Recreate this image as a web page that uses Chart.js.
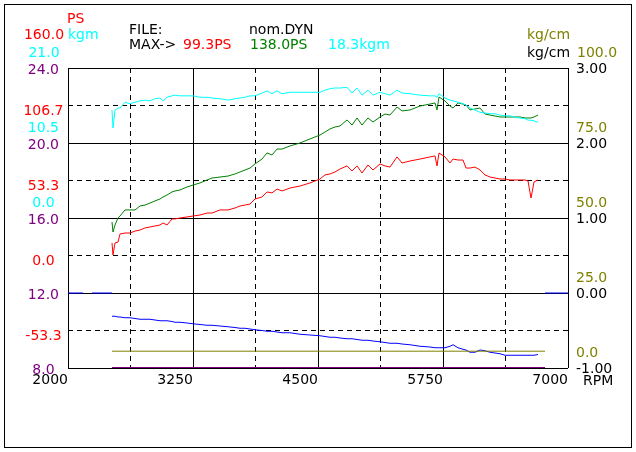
<!DOCTYPE html>
<html>
<head>
<meta charset="utf-8">
<script src="https://cdn.jsdelivr.net/npm/chart.js@4"></script>
<style>
  html, body { margin: 0; padding: 0; background: #fff; }
  canvas { display: block; }
</style>
</head>
<body>
<canvas id="dyno" width="636" height="452"></canvas>
<script>
// engine speed samples (RPM)
const rpm = [2440, 2450, 2470, 2500, 2520, 2570, 2620, 2670, 2720, 2770,
  2820, 2870, 2920, 2950, 2990, 3040, 3070, 3120, 3190, 3250,
  3320, 3390, 3440, 3520, 3600, 3670, 3720, 3770, 3820, 3870,
  3940, 3990, 4040, 4090, 4140, 4220, 4320, 4420, 4520, 4570,
  4620, 4670, 4720, 4790, 4840, 4890, 4940, 5000, 5050, 5120,
  5170, 5220, 5290, 5340, 5420, 5520, 5620, 5670, 5690, 5710,
  5770, 5820, 5850, 5900, 5950, 5980, 6020, 6070, 6120, 6170,
  6220, 6270, 6320, 6370, 6420, 6470, 6520, 6570, 6600, 6630,
  6660, 6700];

// power, PS (red)
const powerPS = [12.8, 4.3, 12.8, 13.5, 19.2, 19.9, 19.9, 21.3, 22.0, 23.5,
  24.2, 24.9, 25.6, 27.0, 25.6, 29.9, 29.9, 30.6, 31.3, 32.0,
  32.7, 34.1, 34.1, 36.3, 36.3, 37.7, 39.1, 39.8, 40.5, 44.1,
  45.5, 49.1, 48.4, 51.2, 49.8, 51.9, 53.3, 55.5, 58.3, 61.2,
  61.9, 63.3, 65.4, 67.6, 64.0, 67.6, 62.6, 68.3, 64.7, 69.0,
  67.6, 66.8, 74.0, 69.7, 71.1, 72.5, 74.0, 74.7, 67.6, 76.8,
  74.0, 69.7, 72.5, 71.8, 71.8, 66.1, 66.1, 66.8, 64.7, 61.2,
  59.7, 59.0, 58.3, 58.3, 57.6, 57.6, 57.6, 57.6, 56.9, 44.8,
  56.2, 57.6];

// nom.DYN power, PS (green)
const nomPS = [27.7, 20.6, 25.6, 30.6, 32.0, 36.3, 36.3, 36.3, 39.1, 39.8,
  41.2, 42.7, 44.1, 45.5, 46.9, 49.1, 49.8, 50.5, 52.6, 54.0,
  55.5, 57.6, 59.0, 59.7, 60.4, 61.9, 63.3, 64.7, 66.1, 69.0,
  72.5, 76.8, 75.4, 79.6, 79.6, 81.8, 83.9, 86.8, 89.6, 91.7,
  93.9, 95.3, 96.0, 100.3, 96.7, 101.7, 96.7, 101.7, 98.8, 102.4,
  104.5, 103.8, 109.5, 106.7, 107.4, 110.2, 111.6, 112.4, 107.4, 116.6,
  113.8, 110.2, 108.8, 112.4, 111.6, 110.9, 107.4, 108.1, 108.8, 104.5,
  103.8, 103.1, 102.4, 102.4, 102.4, 102.4, 102.4, 101.7, 101.7, 101.7,
  102.4, 103.8];

// torque, kgm (cyan)
const torqueKgm = [13.0, 10.5, 13.0, 13.3, 13.3, 14.1, 13.9, 14.1, 14.3, 14.4,
  14.3, 14.6, 14.7, 14.3, 14.8, 15.0, 15.1, 15.0, 15.0, 15.0,
  14.8, 14.8, 14.7, 14.6, 14.4, 14.6, 14.7, 14.8, 15.0, 15.0,
  15.4, 15.7, 15.3, 15.7, 15.3, 15.5, 15.5, 15.5, 15.5, 15.8,
  16.0, 16.1, 16.1, 16.2, 15.4, 16.1, 15.1, 15.8, 15.1, 15.5,
  15.3, 15.1, 15.8, 15.4, 15.3, 15.1, 15.0, 15.0, 14.8, 15.3,
  14.7, 14.4, 14.3, 14.1, 13.9, 13.7, 13.3, 13.0, 12.7, 12.6,
  12.5, 12.5, 12.3, 12.2, 12.2, 12.0, 11.9, 11.8, 11.6, 11.6,
  11.5, 11.3];

// pressure, kg/cm (blue)
const boostKgcm = [-0.31, -0.31, -0.31, -0.32, -0.32, -0.33, -0.33, -0.34, -0.35, -0.35,
  -0.35, -0.36, -0.37, -0.37, -0.37, -0.38, -0.39, -0.39, -0.40, -0.41,
  -0.42, -0.43, -0.43, -0.44, -0.45, -0.46, -0.47, -0.47, -0.48, -0.49,
  -0.50, -0.51, -0.51, -0.52, -0.53, -0.53, -0.55, -0.56, -0.57, -0.58,
  -0.59, -0.59, -0.60, -0.61, -0.61, -0.62, -0.63, -0.63, -0.64, -0.65,
  -0.66, -0.67, -0.67, -0.68, -0.69, -0.71, -0.72, -0.73, -0.73, -0.73,
  -0.73, -0.71, -0.69, -0.73, -0.75, -0.76, -0.79, -0.79, -0.76, -0.77,
  -0.79, -0.80, -0.81, -0.83, -0.83, -0.83, -0.83, -0.83, -0.83, -0.83,
  -0.83, -0.82];

// flat traces
const flatRpm = [2440, 6770];
const oliveLine = [0.6, 0.6];
const purpleLine = [8.0, 8.0];
const baseRpm = [2000, 2150, 2200, 2240, 2440, 4500, 6770, 7000];
const baseLine = [0, 0, null, 0, 0, null, 0, 0];

// tick values
const rpmTicks = [2000, 3250, 4500, 5750, 7000];
const rpmDash = [2625, 3875, 5125, 6375];
const purpleDash = [10, 14, 18, 22];
const psTicks = [-53.33, 0, 53.33, 106.67];
const kgmTicks = [0, 10.5];
const oliveTicks = [0, 25, 50, 75];

Chart.defaults.font.family = '"DejaVu Sans", sans-serif';
Chart.defaults.font.size = 14;

const pts = (xs, ys) => xs.map((x, i) => ({ x: x, y: ys[i] }));
// axes take no room of their own (the layout padding holds the labels),
// so their labels must not be clipped to the empty axis box
const noClip = s => { s._computeLabelArea = () => undefined; };
const noWidth = s => { s.width = 0; noClip(s); };
const noHeight = s => { s.height = 0; noClip(s); };
const fixTicks = vals => s => { s.ticks = vals.map(v => ({ value: v })); };

const header = {
  id: "header",
  afterDraw(chart) {
    const c = chart.ctx;
    c.save();
    c.strokeStyle = "#000";
    c.lineWidth = 1;
    c.strokeRect(4.5, 4.5, 627, 443);
    c.font = '14px "DejaVu Sans"';
    c.textBaseline = "middle";
    const put = (t, x, y, col, align) => {
      c.fillStyle = col;
      c.textAlign = align || "left";
      c.fillText(t, x, y);
    };
    put("PS", 67, 19, "#ff0000");
    put("160.0", 44, 35, "#ff0000", "center");
    put("kgm", 68, 35, "#00ffff");
    put("21.0", 44, 53, "#00ffff", "center");
    put("FILE:", 129, 30, "#000");
    put("MAX->", 129, 45, "#000");
    put("99.3PS", 183, 45, "#ff0000");
    put("nom.DYN", 249, 30, "#000");
    put("138.0PS", 250, 45, "#008000");
    put("18.3kgm", 328, 45, "#00ffff");
    put("kg/cm", 527, 35, "#808000");
    put("kg/cm", 527, 53, "#000");
    put("100.0", 577, 53, "#808000");
    put("RPM", 583, 381, "#000");
    c.restore();
  }
};

new Chart(document.getElementById("dyno"), {
  type: "line",
  data: {
    datasets: [
      { data: pts(flatRpm, oliveLine), borderColor: "#808000", yAxisID: "yOl" },
      { data: pts(flatRpm, purpleLine), borderColor: "#800080", borderWidth: 2, yAxisID: "y" },
      { data: pts(rpm, powerPS), borderColor: "#ff0000", yAxisID: "yPS" },
      { data: pts(rpm, torqueKgm), borderColor: "#00ffff", yAxisID: "yKgm" },
      { data: pts(rpm, nomPS), borderColor: "#008000", yAxisID: "yPS" },
      { data: pts(rpm, boostKgcm), borderColor: "#0000ff", yAxisID: "yKg" },
      { data: pts(baseRpm, baseLine), borderColor: "#0000ff", yAxisID: "yKg" }
    ]
  },
  options: {
    responsive: false,
    animation: false,
    layout: { padding: { left: 68, right: 68, top: 68, bottom: 84 } },
    elements: {
      point: { radius: 0 },
      line: { borderWidth: 1, tension: 0 }
    },
    plugins: { legend: { display: false }, tooltip: { enabled: false } },
    scales: {
      x: {
        type: "linear", position: "bottom", min: 2000, max: 7000,
        afterBuildTicks: fixTicks(rpmTicks), afterFit: noHeight,
        grid: { color: "#000", drawTicks: false },
        border: { display: false },
        ticks: { color: "#000", align: "end", padding: 4, maxRotation: 0, autoSkip: false,
          callback: v => String(v) }
      },
      xd: {
        type: "linear", position: "bottom", min: 2000, max: 7000,
        afterBuildTicks: fixTicks(rpmDash), afterFit: noHeight,
        grid: { color: "#000", drawTicks: false },
        border: { display: false, dash: [5, 4] },
        ticks: { display: false }
      },
      y: {
        position: "left", min: 8, max: 24, afterFit: noWidth,
        grid: { color: "#000", drawTicks: false },
        border: { display: false },
        ticks: { stepSize: 4, color: "#800080", crossAlign: "center", padding: 9, labelOffset: 2,
          callback: v => v.toFixed(1) }
      },
      yd: {
        position: "left", min: 8, max: 24, afterFit: noWidth,
        afterBuildTicks: fixTicks(purpleDash),
        grid: { color: "#000", drawTicks: false },
        border: { display: false, dash: [5, 4] },
        ticks: { display: false }
      },
      yPS: {
        position: "left", min: -76.09, max: 137.24, afterFit: noWidth,
        afterBuildTicks: fixTicks(psTicks),
        grid: { display: false, drawTicks: false },
        border: { display: false },
        ticks: { color: "#ff0000", crossAlign: "center", padding: 4.5,
          callback: v => v.toFixed(1) }
      },
      yKgm: {
        position: "left", min: -23.1, max: 18.9, afterFit: noWidth,
        afterBuildTicks: fixTicks(kgmTicks),
        grid: { display: false, drawTicks: false },
        border: { display: false },
        ticks: { color: "#00ffff", crossAlign: "center", padding: 9,
          callback: v => v.toFixed(1) }
      },
      yKg: {
        position: "right", min: -1, max: 3, afterFit: noWidth,
        grid: { display: false, drawTicks: false },
        border: { display: false },
        ticks: { stepSize: 1, color: "#000", padding: 8, labelOffset: 1,
          callback: v => v.toFixed(2) }
      },
      yOl: {
        position: "right", min: -5, max: 95, afterFit: noWidth,
        afterBuildTicks: fixTicks(oliveTicks),
        grid: { display: false, drawTicks: false },
        border: { display: false },
        ticks: { color: "#808000", padding: 8,
          callback: v => v.toFixed(1) }
      }
    }
  },
  plugins: [header]
});
</script>
</body>
</html>
